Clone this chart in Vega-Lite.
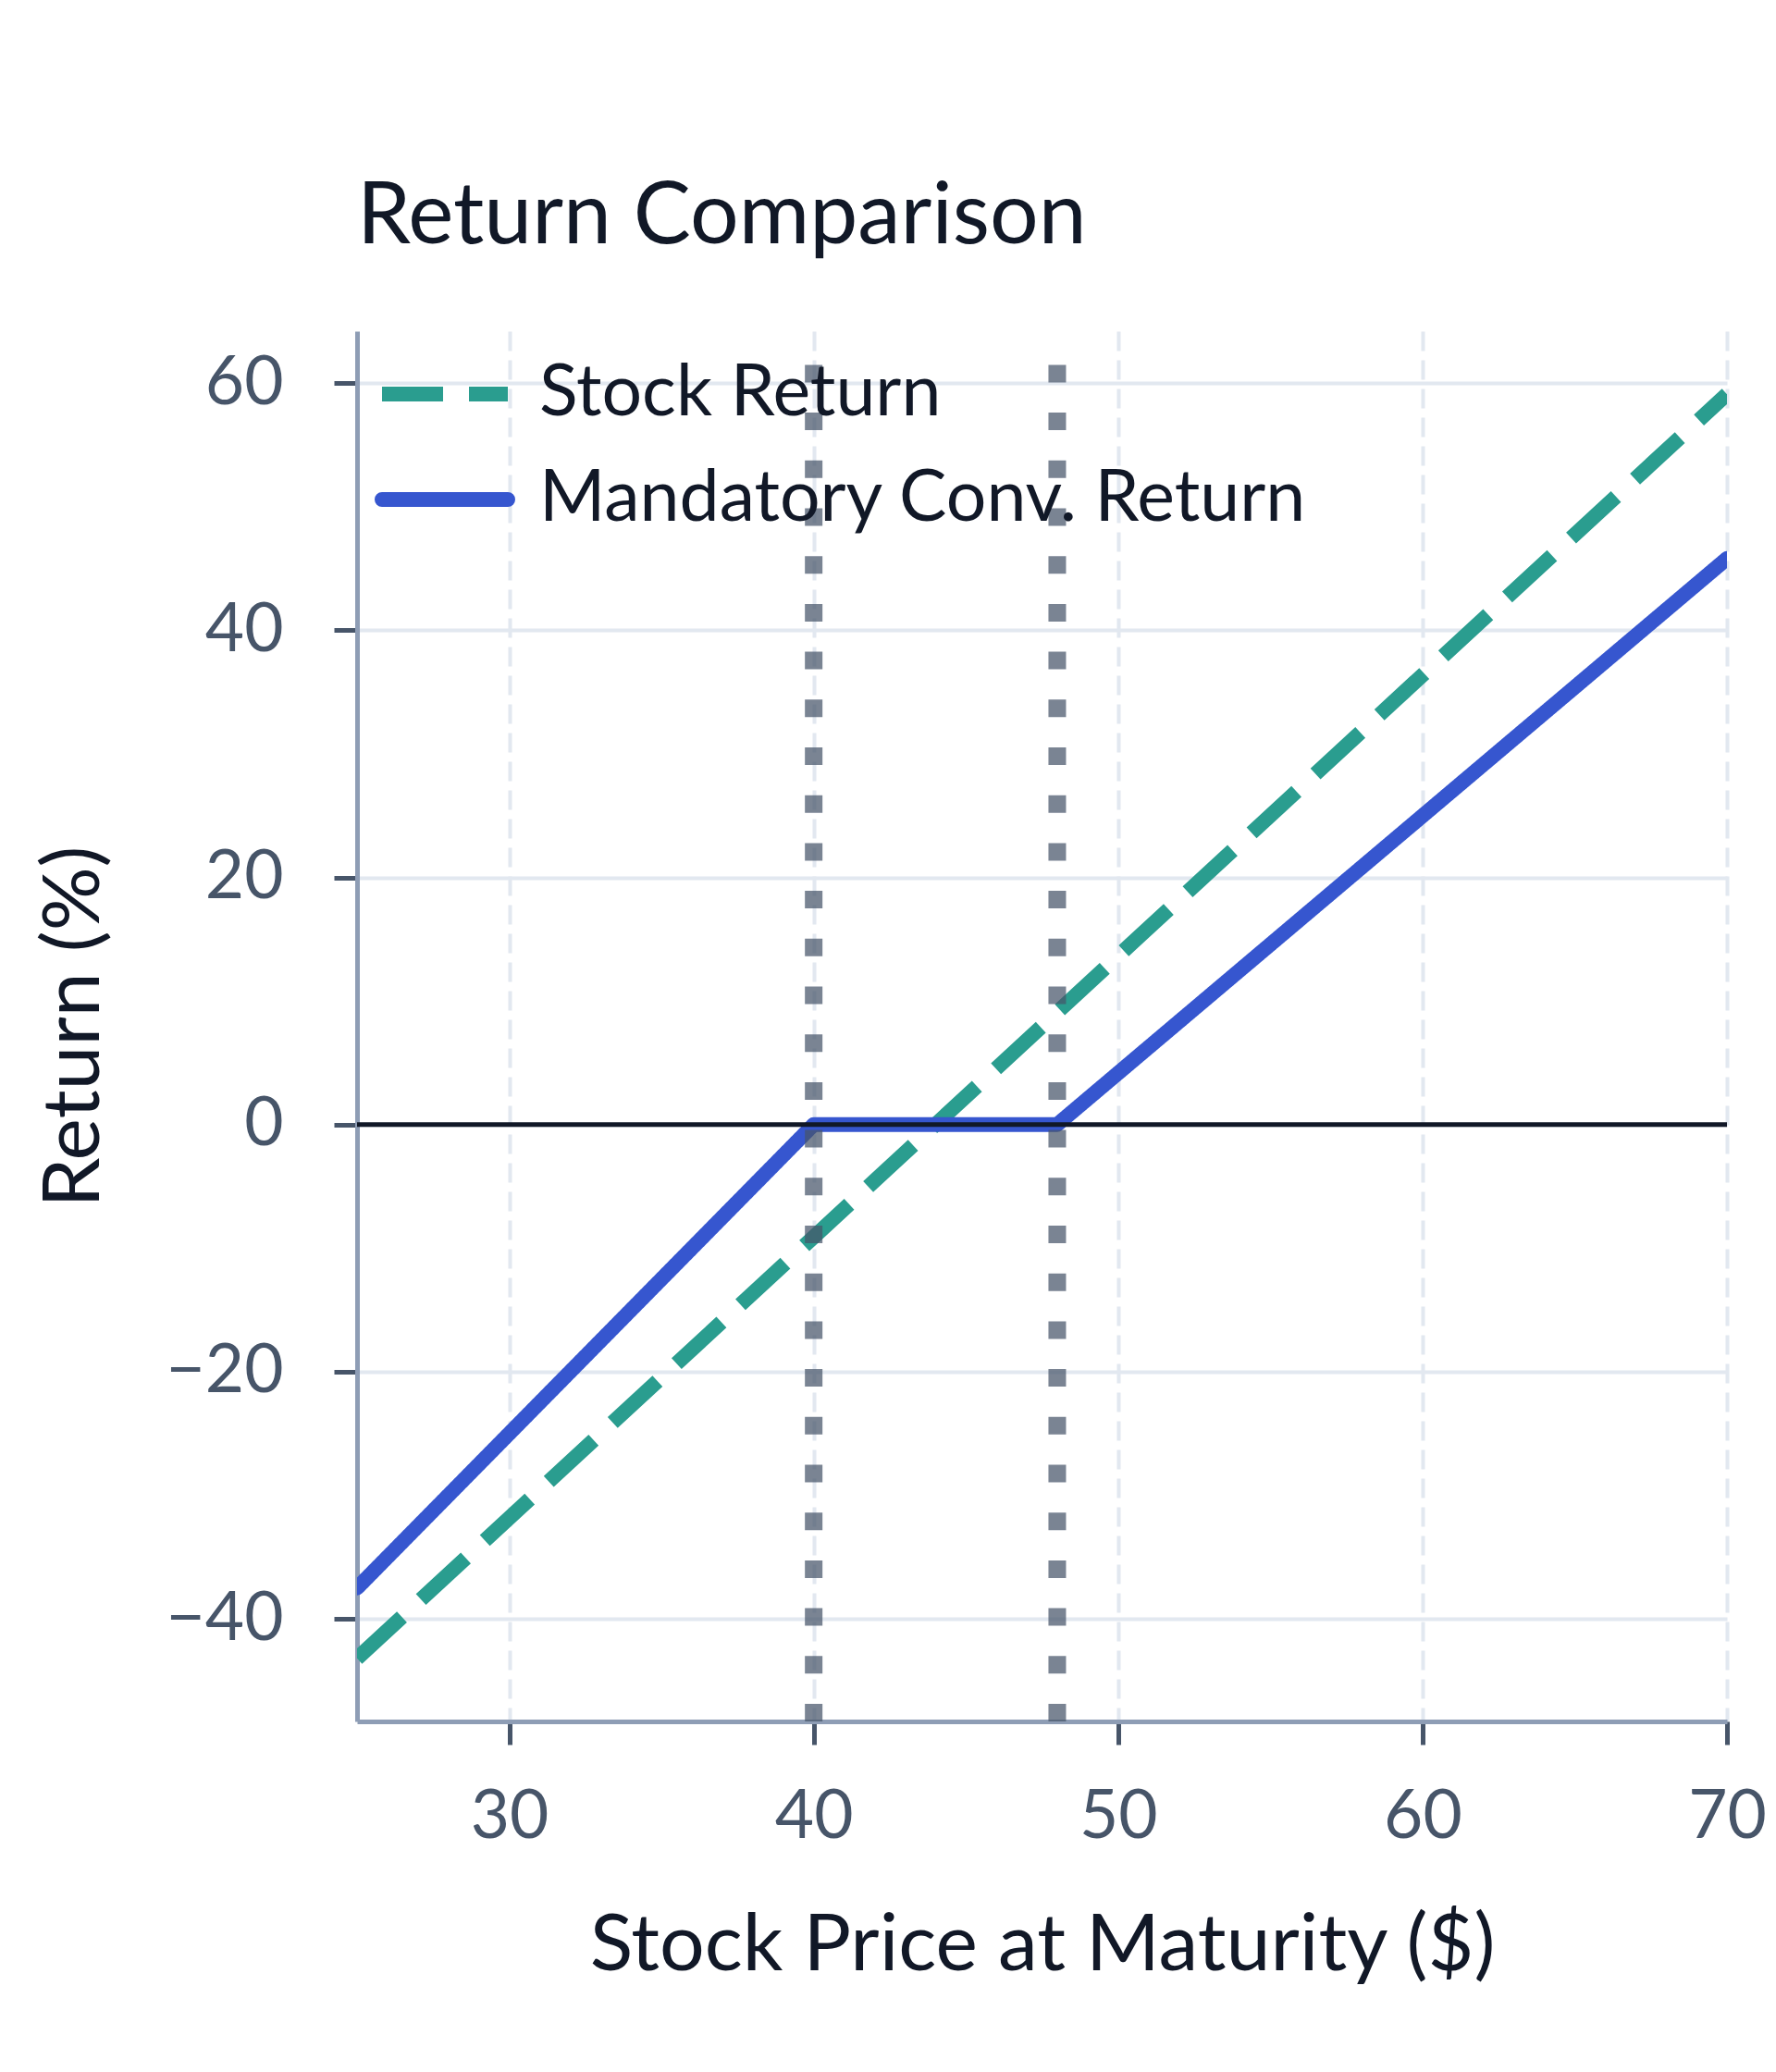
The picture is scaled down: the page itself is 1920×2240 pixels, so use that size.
{
  "$schema": "https://vega.github.io/schema/vega-lite/v6.json",
  "width": 1481,
  "height": 1503,
  "autosize": {"type": "none"},
  "padding": {"left": 386, "top": 358, "right": 53, "bottom": 379},
  "background": "white",
  "title": {
    "text": "Return Comparison",
    "anchor": "start",
    "frame": "group",
    "fontSize": 93,
    "font": "Lato",
    "fontWeight": "normal",
    "color": "#111827",
    "baseline": "alphabetic",
    "offset": -6
  },
  "datasets": {
    "returns": [
      {"price": 25, "ret": -43.2, "series": "Stock Return"},
      {"price": 40, "ret": -9.1, "series": "Stock Return"},
      {"price": 48, "ret": 9.1, "series": "Stock Return"},
      {"price": 70, "ret": 59.1, "series": "Stock Return"},
      {"price": 25, "ret": -37.5, "series": "Mandatory Conv. Return"},
      {"price": 40, "ret": 0, "series": "Mandatory Conv. Return"},
      {"price": 48, "ret": 0, "series": "Mandatory Conv. Return"},
      {"price": 70, "ret": 45.8, "series": "Mandatory Conv. Return"}
    ],
    "strikes": [
      {"strike": 40},
      {"strike": 48}
    ]
  },
  "layer": [
    {
      "data": {"name": "returns"},
      "transform": [{"filter": "datum.series === 'Stock Return'"}],
      "mark": {"type": "line", "strokeWidth": 16, "strokeCap": "butt", "strokeJoin": "miter", "clip": true},
      "encoding": {
        "x": {
          "field": "price", "type": "quantitative",
          "scale": {"domain": [25, 70], "nice": false, "zero": false},
          "axis": {
            "title": "Stock Price at Maturity ($)",
            "values": [30, 40, 50, 60, 70],
            "gridDash": [21, 10]
          }
        },
        "y": {
          "field": "ret", "type": "quantitative",
          "scale": {"domain": [-48.3, 64.2], "nice": false, "zero": false},
          "axis": {
            "title": "Return (%)",
            "values": [-40, -20, 0, 20, 40, 60],
            "gridDash": []
          }
        },
        "color": {
          "field": "series", "type": "nominal",
          "scale": {"domain": ["Stock Return", "Mandatory Conv. Return"], "range": ["#2a9d8f", "#3656cf"]},
          "legend": {
            "title": null,
            "encode": {"symbols": {"update": {"strokeCap": {"signal": "datum.value === 'Mandatory Conv. Return' ? 'round' : 'butt'"}}}}
          }
        },
        "strokeDash": {
          "field": "series", "type": "nominal",
          "scale": {"domain": ["Stock Return", "Mandatory Conv. Return"], "range": [[66, 28], [1, 0]]},
          "legend": {
            "title": null,
            "encode": {"symbols": {"update": {"strokeCap": {"signal": "datum.value === 'Mandatory Conv. Return' ? 'round' : 'butt'"}}}}
          }
        }
      }
    },
    {
      "data": {"name": "returns"},
      "transform": [{"filter": "datum.series === 'Mandatory Conv. Return'"}],
      "mark": {"type": "line", "strokeWidth": 16, "strokeCap": "round", "strokeJoin": "round", "clip": true},
      "encoding": {
        "x": {"field": "price", "type": "quantitative"},
        "y": {"field": "ret", "type": "quantitative"},
        "color": {"field": "series", "type": "nominal"},
        "strokeDash": {"field": "series", "type": "nominal"}
      }
    },
    {
      "data": {"name": "strikes"},
      "mark": {"type": "rule", "color": "#475569", "opacity": 0.72, "strokeWidth": 19, "strokeDash": [19, 32.7], "strokeCap": "butt"},
      "encoding": {
        "x": {"field": "strike", "type": "quantitative"},
        "y": {"datum": -48.3},
        "y2": {"datum": 63.9}
      }
    },
    {
      "data": {"values": [{"level": 0}]},
      "mark": {"type": "rule", "color": "#111827", "strokeWidth": 5},
      "encoding": {
        "y": {"field": "level", "type": "quantitative"}
      }
    }
  ],
  "config": {
    "font": "Lato",
    "view": {"stroke": null},
    "axis": {
      "labelFont": "Lato",
      "labelFontSize": 73,
      "labelColor": "#475569",
      "titleFont": "Lato",
      "titleFontSize": 86,
      "titleFontWeight": "normal",
      "titleColor": "#111827",
      "tickSize": 25,
      "tickWidth": 5,
      "tickColor": "#475569",
      "domainColor": "#8e9db5",
      "domainWidth": 5,
      "gridColor": "#e2e8f0",
      "gridWidth": 4,
      "labelFlush": false,
      "labelOverlap": false
    },
    "axisX": {"labelPadding": 42, "titlePadding": 60},
    "axisY": {"labelPadding": 55, "titlePadding": 62},
    "legend": {
      "orient": "none",
      "legendX": 19,
      "legendY": -8,
      "padding": 0,
      "symbolType": "stroke",
      "symbolSize": 18496,
      "symbolStrokeWidth": 16,
      "labelFont": "Lato",
      "labelFontSize": 77,
      "labelColor": "#111827",
      "labelOffset": 26,
      "labelLimit": 1200,
      "rowPadding": -3
    }
  }
}
